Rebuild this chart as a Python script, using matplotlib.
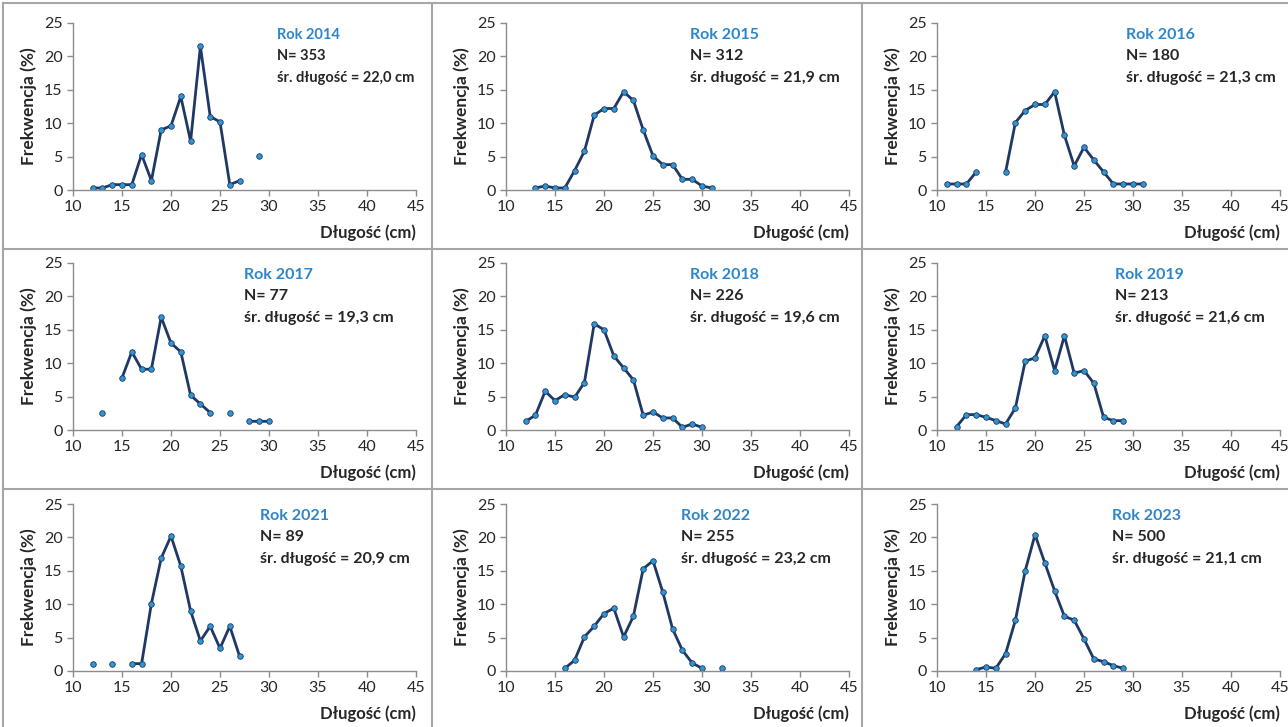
import matplotlib
matplotlib.use("Agg")
import matplotlib.pyplot as plt
from matplotlib.lines import Line2D
import numpy as np

nan = np.nan

years = [2014, 2015, 2016, 2017, 2018, 2019, 2021, 2022, 2023]
counts = [353, 312, 180, 77, 226, 213, 89, 255, 500]
mean_len = ["22,0", "21,9", "21,3", "19,3", "19,6", "21,6", "20,9", "23,2", "21,1"]

# length classes (cm) and frequency (%) for each year, nan = no fish in class
x2014 = list(range(12, 30))
y2014 = [0.3, 0.3, 0.8, 0.8, 0.8, 5.3, 1.4, 9.0, 9.6, 14.0, 7.3, 21.5, 11.0, 10.2, 0.8, 1.4, nan, 5.1]
x2015 = list(range(13, 32))
y2015 = [0.3, 0.6, 0.3, 0.3, 2.9, 5.8, 11.2, 12.2, 12.2, 14.7, 13.4, 9.0, 5.1, 3.8, 3.8, 1.6, 1.6, 0.6, 0.3]
x2016 = list(range(11, 32))
y2016 = [0.9, 0.9, 0.9, 2.7, nan, nan, 2.7, 10.1, 11.9, 12.8, 12.8, 14.7, 8.2, 3.6, 6.4, 4.5, 2.7, 0.9, 0.9, 0.9, 0.9]
x2017 = list(range(13, 31))
y2017 = [2.6, nan, 7.8, 11.7, 9.1, 9.1, 16.9, 13.0, 11.7, 5.2, 3.9, 2.6, nan, 2.6, nan, 1.3, 1.3, 1.3]
x2018 = list(range(12, 31))
y2018 = [1.3, 2.2, 5.8, 4.4, 5.3, 4.9, 7.1, 15.9, 15.0, 11.1, 9.3, 7.5, 2.2, 2.7, 1.8, 1.8, 0.4, 0.9, 0.4]
x2019 = list(range(12, 30))
y2019 = [0.5, 2.3, 2.3, 1.9, 1.4, 0.9, 3.3, 10.3, 10.8, 14.1, 8.9, 14.1, 8.5, 8.9, 7.0, 1.9, 1.4, 1.4]
x2021 = list(range(12, 28))
y2021 = [1.1, nan, 1.1, nan, 1.1, 1.1, 10.1, 16.9, 20.2, 15.7, 9.0, 4.5, 6.7, 3.4, 6.7, 2.2]
x2022 = list(range(16, 33))
y2022 = [0.4, 1.6, 5.1, 6.7, 8.6, 9.4, 5.1, 8.2, 15.3, 16.5, 11.8, 6.3, 3.1, 1.2, 0.4, nan, 0.4]
x2023 = list(range(14, 30))
y2023 = [0.2, 0.6, 0.4, 2.6, 7.6, 15.0, 20.4, 16.2, 12.0, 8.2, 7.6, 4.8, 1.8, 1.4, 0.8, 0.4]

xs = [x2014, x2015, x2016, x2017, x2018, x2019, x2021, x2022, x2023]
ys = [y2014, y2015, y2016, y2017, y2018, y2019, y2021, y2022, y2023]

# text x position (axes fraction) per panel
text_x = [0.595, 0.535, 0.55, 0.50, 0.537, 0.52, 0.545, 0.51, 0.51]

plt.rcParams['font.family'] = ['Lato', 'DejaVu Sans']

W, H = 1288, 727
fig = plt.figure(figsize=(W / 100, H / 100), dpi=100)

col_left = [73, 506, 937]
row_top = [23, 263, 504]
ax_w = 343
ax_h = 167

line_col = '#1F3864'
marker_col = '#2E96D3'
title_col = '#2E86C8'
axis_col = '#8C8C8C'
text_col = '#262626'

for i in range(9):
    r, c = divmod(i, 3)
    left = col_left[c] / W
    bottom = 1 - (row_top[r] + ax_h) / H
    ax = fig.add_axes([left, bottom, ax_w / W, ax_h / H])
    ax.plot(xs[i], ys[i], color=line_col, lw=2.0, marker='o', ms=4,
            mfc=marker_col, mec=line_col, mew=0.6)
    ax.set_xlim(10, 45)
    ax.set_ylim(0, 25)
    ax.set_xticks(range(10, 50, 5))
    ax.set_yticks(range(0, 30, 5))
    for s in ['top', 'right']:
        ax.spines[s].set_visible(False)
    for s in ['left', 'bottom']:
        ax.spines[s].set_color(axis_col)
        ax.spines[s].set_linewidth(1.0)
    ax.tick_params(colors=axis_col, labelcolor=text_col, labelsize=11.5,
                   length=4, width=1.0)
    ax.set_ylabel('Frekwencja (%)', fontsize=12.5, fontweight='bold',
                  color=text_col, labelpad=5)
    ax.set_xlabel('Długość (cm)', fontsize=12, fontweight='bold',
                  color=text_col, loc='right', labelpad=7)
    fs = 10.5 if i == 0 else 11.5
    ax.text(text_x[i], 0.93, 'Rok ' + str(years[i]), transform=ax.transAxes,
            color=title_col, fontsize=fs, fontweight='bold', va='center')
    ax.text(text_x[i], 0.80, 'N= ' + str(counts[i]), transform=ax.transAxes,
            color=text_col, fontsize=fs, fontweight='bold', va='center')
    ax.text(text_x[i], 0.67, 'śr. długość = ' + mean_len[i] + ' cm',
            transform=ax.transAxes, color=text_col, fontsize=fs,
            fontweight='bold', va='center')

# panel frames
frame_col = '#A6A6A6'
for xv in [3, 432, 862]:
    fig.add_artist(Line2D([xv / W, xv / W], [0, 1 - 3 / H], color=frame_col, lw=1.5))
for yv in [3, 249, 489]:
    fig.add_artist(Line2D([3 / W, 1], [1 - yv / H, 1 - yv / H], color=frame_col, lw=1.5))

fig.savefig('out.png', dpi=100)
